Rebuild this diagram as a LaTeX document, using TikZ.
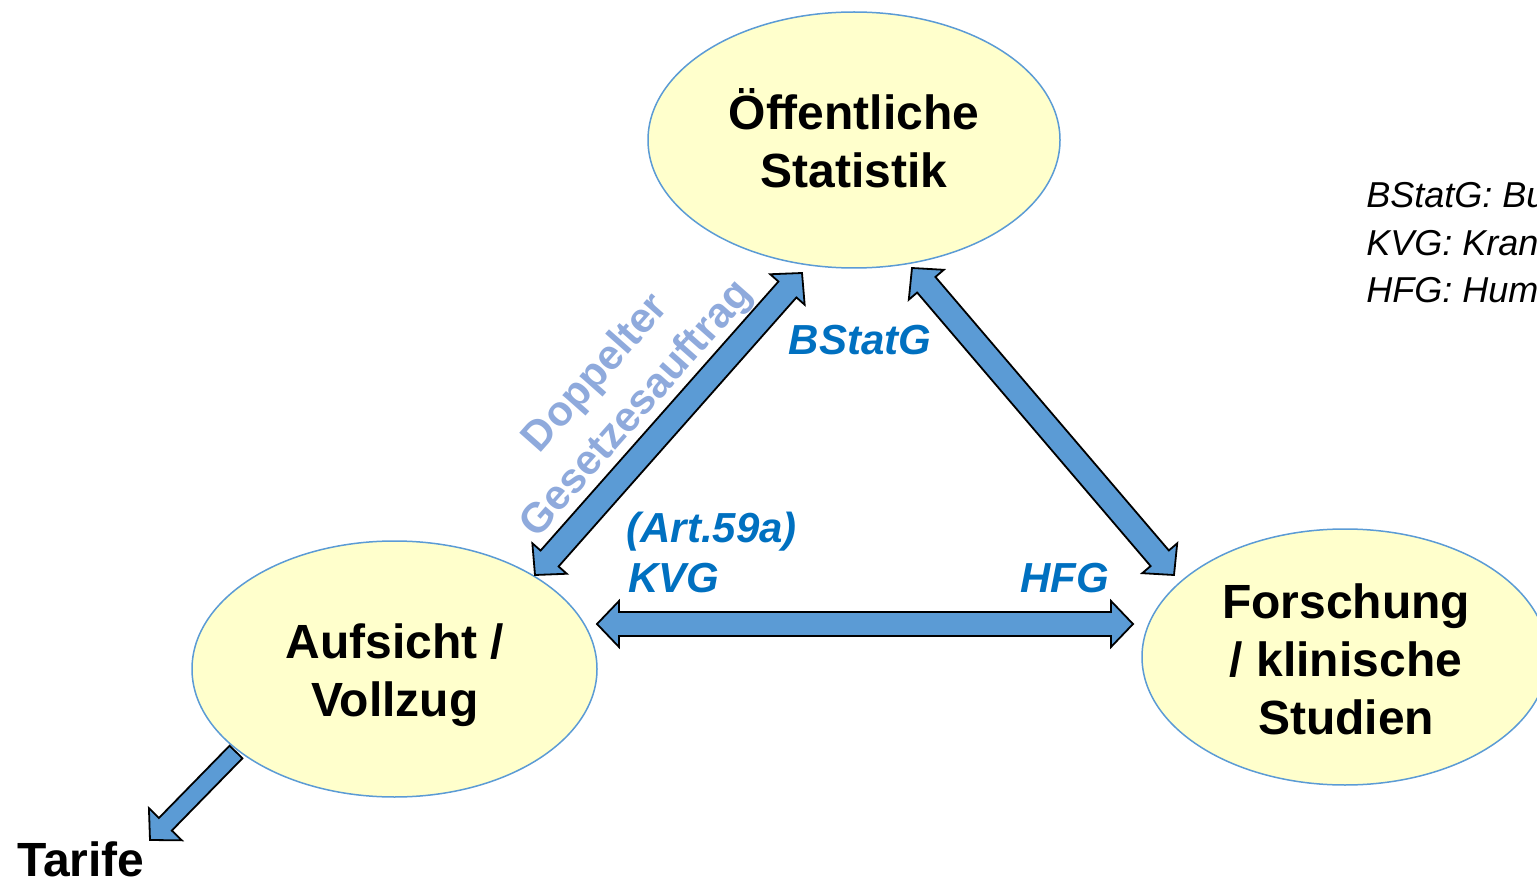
\documentclass[tikz,border=0pt]{standalone}
\usepackage{fontspec}
\setmainfont{Liberation Sans}
\usetikzlibrary{shapes.geometric,calc}
\definecolor{bubfill}{HTML}{FFFFCC}
\definecolor{bubline}{HTML}{5B9BD5}
\definecolor{arrfill}{HTML}{5B9BD5}
\definecolor{lawblue}{HTML}{0070C0}
\definecolor{paleblue}{HTML}{8FAADC}
\tikzset{
  bubble/.style={ellipse, draw=bubline, line width=0.75pt, fill=bubfill, inner sep=0pt,
    minimum width=#1, minimum height=128pt},
  bubtext/.style={inner sep=0pt, align=center, font=\fontsize{24}{29}\selectfont\bfseries},
  blockarrow/.style={fill=arrfill, draw=black, line width=0.9pt, line join=miter},
  lawlabel/.style={inner sep=0pt, text=lawblue, font=\fontsize{21}{25}\selectfont\bfseries\itshape},
  legend/.style={inner sep=0pt, font=\fontsize{18}{22}\selectfont\itshape},
  plainlabel/.style={inner sep=0pt, font=\fontsize{24}{29}\selectfont\bfseries},
}
\def\ahl{11pt}
\def\ahw{11.5pt}
\def\asw{6pt}
\def\ssw{4.5pt}
\newcommand\dblarrow[2]{%
  \filldraw[blockarrow] (#1)
   -- ($(#1)!\ahl!(#2)!\ahw!90:(#2)$)
   -- ($(#1)!\ahl!(#2)!\asw!90:(#2)$)
   -- ($(#2)!\ahl!(#1)!\asw!-90:(#1)$)
   -- ($(#2)!\ahl!(#1)!\ahw!-90:(#1)$)
   -- (#2)
   -- ($(#2)!\ahl!(#1)!\ahw!90:(#1)$)
   -- ($(#2)!\ahl!(#1)!\asw!90:(#1)$)
   -- ($(#1)!\ahl!(#2)!\asw!-90:(#2)$)
   -- ($(#1)!\ahl!(#2)!\ahw!-90:(#2)$)
   -- cycle;}
\newcommand\sglarrow[2]{%
  \filldraw[blockarrow] ($(#1)!\ssw!90:(#2)$)
   -- ($(#2)!\ahl!(#1)!\ssw!-90:(#1)$)
   -- ($(#2)!\ahl!(#1)!\ahw!-90:(#1)$)
   -- (#2)
   -- ($(#2)!\ahl!(#1)!\ahw!90:(#1)$)
   -- ($(#2)!\ahl!(#1)!\ssw!90:(#1)$)
   -- ($(#1)!\ssw!-90:(#2)$)
   -- cycle;}
\begin{document}
\begin{tikzpicture}[x=0.5pt,y=-0.5pt]
\useasboundingbox (0,0) rectangle (1537,882);
\begin{scope}
\clip (0,0) rectangle (1537,882);
% bubbles
\node[bubble=206pt] (stat) at (854,140) {};
\node[bubble=202.5pt] (aufs) at (394.5,669) {};
\node[bubble=203pt] (forsch) at (1345,657) {};
\node[bubtext] (statlbl) at (854,138) {Öffentliche\\Statistik};
\node[bubtext] (aufslbl) at (395,675.5) {Aufsicht /\\Vollzug};
\node[bubtext] (forschlbl) at (1346,659.5) {Forschung\\/ klinische\\Studien};
% legend
\node[legend, anchor=base west] (lg1) at (1366,208) {BStatG: Bundesstatistikgesetz};
\node[legend, anchor=base west] (lg2) at (1366,256) {KVG: Krankenversicherungsgesetz};
\node[legend, anchor=base west] (lg3) at (1366,303) {HFG: Humanforschungsgesetz};
\end{scope}
% arrow end points
\coordinate (l1) at (535,575);
\coordinate (l2) at (802,273);
\coordinate (r1) at (912,268);
\coordinate (r2) at (1174,575);
\coordinate (h1) at (597,624);
\coordinate (h2) at (1133,624);
\coordinate (t1) at (236,752);
\coordinate (t2) at (150,840);
\dblarrow{l1}{l2}
\dblarrow{r1}{r2}
\dblarrow{h1}{h2}
\sglarrow{t1}{t2}
% labels
\node[lawlabel] (bstatg) at (860,340) {BStatG};
\node[lawlabel, anchor=base west] (art) at (626,542) {(Art.59a)};
\node[lawlabel, anchor=base west] (kvg) at (628,592) {KVG};
\node[lawlabel, anchor=base west] (hfg) at (1020,592) {HFG};
\node[inner sep=0pt, text=paleblue, rotate=48.5, align=center,
  font=\fontsize{21}{27}\selectfont\bfseries] (dopp) at (617,392) {Doppelter\\Gesetzesauftrag};
\node[plainlabel, anchor=base west] (tarife) at (17,876) {Tarife};
\end{tikzpicture}
\end{document}
